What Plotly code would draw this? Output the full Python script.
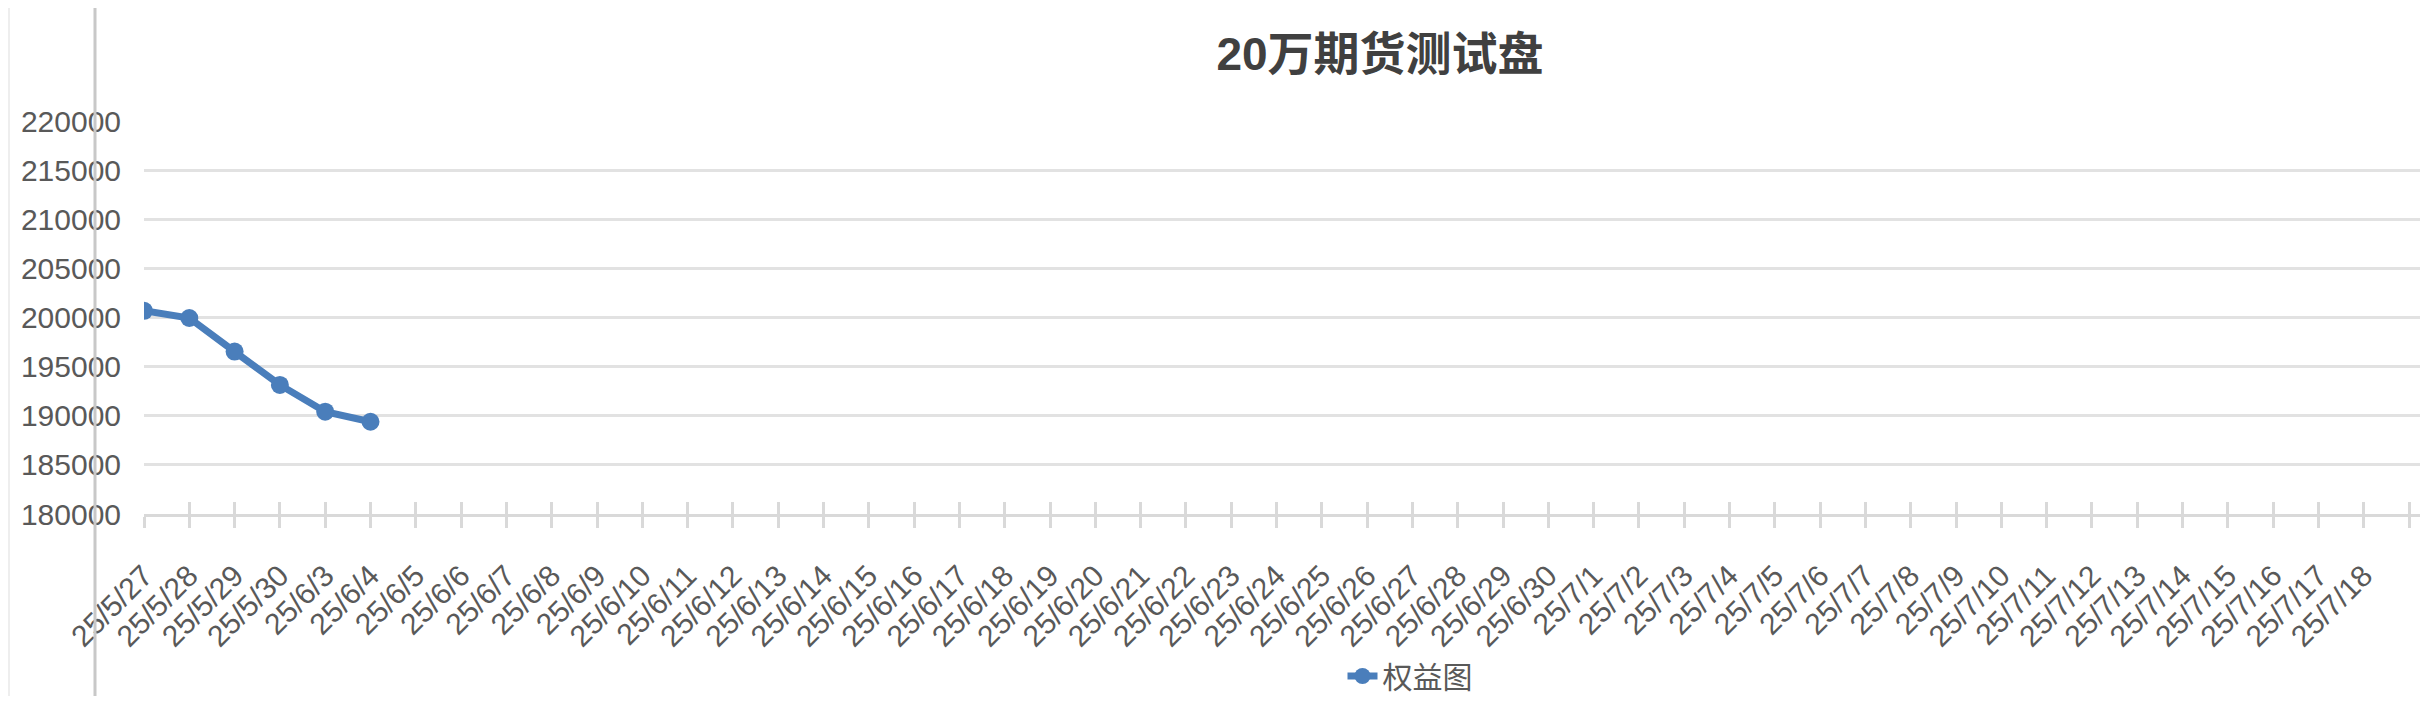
import plotly.graph_objects as go

# 交易日（横轴标签），最后一个是空白分类
dates = ["25/5/27", "25/5/28", "25/5/29", "25/5/30", "25/6/3", "25/6/4", "25/6/5",
         "25/6/6", "25/6/7", "25/6/8", "25/6/9", "25/6/10", "25/6/11", "25/6/12",
         "25/6/13", "25/6/14", "25/6/15", "25/6/16", "25/6/17", "25/6/18", "25/6/19",
         "25/6/20", "25/6/21", "25/6/22", "25/6/23", "25/6/24", "25/6/25", "25/6/26",
         "25/6/27", "25/6/28", "25/6/29", "25/6/30", "25/7/1", "25/7/2", "25/7/3",
         "25/7/4", "25/7/5", "25/7/6", "25/7/7", "25/7/8", "25/7/9", "25/7/10",
         "25/7/11", "25/7/12", "25/7/13", "25/7/14", "25/7/15", "25/7/16", "25/7/17",
         "25/7/18", ""]

# 权益（只有前几天有数据）
equity = [200680, 199950, 196530, 193140, 190410, 189390]

y_ticks = [180000, 185000, 190000, 195000, 200000, 205000, 210000, 215000, 220000]

# 页面 body 默认有 8px 边距，图的尺寸和位置都按这个扣掉
OFF = 8
W, H = 2428 - 2 * OFF, 704 - 2 * OFF
L, R, T, B = 144 - OFF, 0, 121 - OFF, H - (514 - OFF)
step = 45.3  # 每个分类的像素宽度
x_max = (W - L - R) / step

grey_txt = "#595959"
grid_col = "#e2e2e2"
axis_col = "#d9d9d9"
font_fam = "Liberation Sans, Arial, Noto Sans CJK SC, sans-serif"

idx = list(range(len(dates)))

fig = go.Figure()
fig.add_trace(go.Scatter(
    x=idx[:len(equity)], y=equity,
    mode="lines+markers",
    name="权益图",
    line=dict(color="#4a7ebb", width=7),
    marker=dict(color="#4a7ebb", size=18),
))

plot_w = W - L - R
plot_h = H - T - B


def px_x(px):
    # 参考图的像素 x -> paper 坐标
    return (px - OFF - L) / plot_w


def px_y(py):
    # 参考图的像素 y -> paper 坐标
    return (H - B - (py - OFF)) / plot_h


# 左侧的竖线（截图里的边框）
fig.add_shape(type="line", xref="paper", yref="paper",
              x0=px_x(95), x1=px_x(95), y0=px_y(720), y1=px_y(-10),
              line=dict(color="#c8c8c8", width=3))
fig.add_shape(type="line", xref="paper", yref="paper",
              x0=px_x(9), x1=px_x(9), y0=px_y(720), y1=px_y(-10),
              line=dict(color="#eeeeee", width=2))

fig.update_layout(
    width=W, height=H,
    margin=dict(l=L, r=R, t=T, b=B, autoexpand=False),
    paper_bgcolor="white",
    plot_bgcolor="white",
    font=dict(family=font_fam, color=grey_txt),
    title=dict(
        text="<b>20万期货测试盘</b>",
        font=dict(size=46, color="#404040", family="Liberation Sans, Noto Sans CJK SC"),
        xref="container", x=(1380 - OFF) / W, xanchor="center",
        yref="container", y=1 - (54 - OFF) / H, yanchor="middle",
    ),
    xaxis=dict(
        range=[0, x_max],
        tickvals=idx, ticktext=dates,
        tickangle=-45,
        tickfont=dict(size=30, color=grey_txt),
        ticks="outside", ticklen=11, tickwidth=3, tickcolor=axis_col,
        showline=True, linecolor=axis_col, linewidth=3,
        showgrid=False, zeroline=False, automargin=False,
        ticklabelstandoff=18,
    ),
    xaxis2=dict(
        overlaying="x", anchor="y", side="bottom",
        range=[0, x_max], tickvals=idx,
        ticks="inside", ticklen=12, tickwidth=3, tickcolor=axis_col,
        showticklabels=False, showgrid=False, showline=False, zeroline=False,
        automargin=False,
    ),
    yaxis=dict(
        range=[180000, 220000],
        tickvals=y_ticks, tickformat="d",
        tickfont=dict(size=30, color=grey_txt),
        showgrid=True, gridcolor=grid_col, gridwidth=3,
        zeroline=False, showline=False, ticks="", automargin=False,
        ticklabelstandoff=22,
    ),
    legend=dict(
        orientation="h",
        xref="paper", x=px_x(1410), xanchor="center",
        yref="paper", y=px_y(676), yanchor="middle",
        font=dict(size=30, color=grey_txt, family="Noto Sans CJK SC"),
    ),
    showlegend=True,
)

# 给 xaxis2 一个看不见的轨迹，让它画出来
fig.add_trace(go.Scatter(x=[0], y=[180000], xaxis="x2", mode="markers",
                         marker=dict(opacity=0), showlegend=False, hoverinfo="skip"))

fig.write_html("out.html")
